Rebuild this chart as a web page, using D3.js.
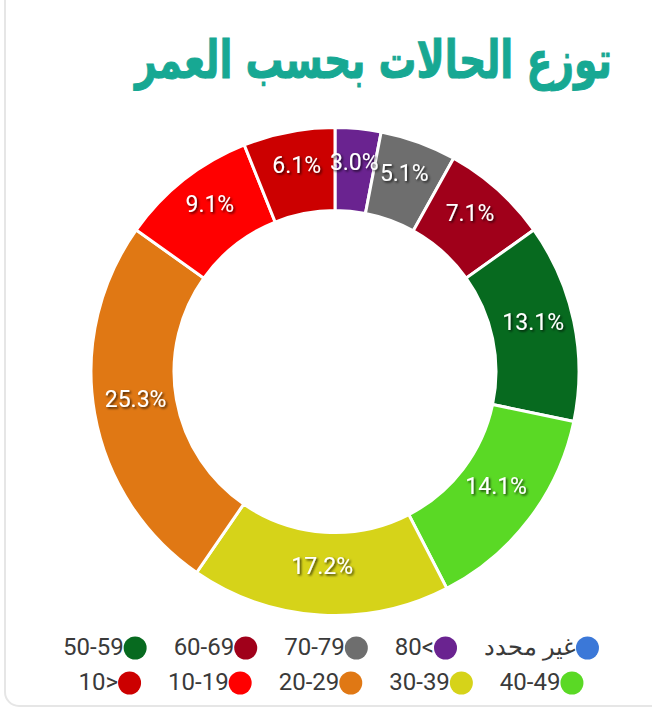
<!DOCTYPE html>
<html>
<head>
<meta charset="utf-8">
<script src="https://cdn.jsdelivr.net/npm/d3@7"></script>
<style>
  body { margin: 0; background: #fff; }
  svg { display: block; }
</style>
</head>
<body>
<svg width="652" height="716"></svg>
<script>
// age groups, in legend order (right to left), and case counts
var ageLabels = ["غير محدد", "80<", "70-79", "60-69", "50-59", "40-49", "30-39", "20-29", "10-19", "10>"];
var caseCounts = [0, 3, 5, 7, 13, 14, 17, 25, 9, 6];
var sliceColors = ["#3b78d8", "#6a2390", "#6e6e6e", "#a0001a", "#076a1f", "#5ad925", "#d6d319", "#e07814", "#ff0000", "#cc0000"];
var title = "توزع الحالات بحسب العمر";

var svg = d3.select("svg");
var total = d3.sum(caseCounts);

// card border
svg.append("rect")
  .attr("x", 5).attr("y", -30)
  .attr("width", 720).attr("height", 736)
  .attr("rx", 14)
  .attr("fill", "#fff")
  .attr("stroke", "#e6e6e6")
  .attr("stroke-width", 2);

// shadow for the slice labels
var f = svg.append("defs").append("filter").attr("id", "shadow")
  .attr("x", "-20%").attr("y", "-30%").attr("width", "140%").attr("height", "160%");
f.append("feDropShadow")
  .attr("dx", 1.5).attr("dy", 1.5).attr("stdDeviation", 1.2)
  .attr("flood-color", "#000").attr("flood-opacity", 0.75);

// title, stretched to the width it has in the card
var titleX = 373.5;
var t = svg.append("text")
  .attr("x", titleX).attr("y", 78)
  .attr("text-anchor", "middle")
  .attr("font-family", "DejaVu Sans")
  .attr("font-weight", "bold")
  .attr("font-size", 52)
  .attr("fill", "#17a893")
  .attr("stroke", "#17a893")
  .attr("stroke-width", 1)
  .text(title);
var tw = t.node().getComputedTextLength();
t.attr("transform", "translate(" + titleX + ",0) scale(" + (477 / tw) + ",1) translate(" + (-titleX) + ",0)");

// doughnut
var cx = 335, cy = 371.5, outerR = 244, innerR = 161;
var g = svg.append("g").attr("transform", "translate(" + cx + "," + cy + ")");

var pie = d3.pie().sort(null).value(function(d) { return d; });
var arcs = pie(caseCounts);
var arc = d3.arc().innerRadius(innerR).outerRadius(outerR);

g.selectAll("path")
  .data(arcs)
  .enter().append("path")
    .attr("d", arc)
    .attr("fill", function(d, i) { return sliceColors[i]; })
    .attr("stroke", "#fff")
    .attr("stroke-width", 3);

g.selectAll("text.pct")
  .data(arcs.filter(function(d) { return d.value > 0; }))
  .enter().append("text")
    .attr("class", "pct")
    .attr("x", function(d) { return arc.centroid(d)[0]; })
    .attr("y", function(d) { return arc.centroid(d)[1]; })
    .attr("text-anchor", "middle")
    .attr("font-family", "Roboto")
    .attr("font-size", 23)
    .attr("fill", "#fff")
    .attr("filter", "url(#shadow)")
    .text(function(d) { return (d.value / total * 100).toFixed(1) + "%"; });

// legend: two centred rows laid out right to left
var rows = [ageLabels.slice(0, 5), ageLabels.slice(5)];
var rowY = [648, 683];
var dotR = 11.5, gap = 27, centerX = 331;
var lg = svg.append("g");

rows.forEach(function(row, r) {
  var items = row.map(function(label) {
    var tx = lg.append("text")
      .attr("font-family", "Roboto")
      .attr("font-size", 24)
      .attr("fill", "#3a3a3a")
      .attr("direction", "ltr")
      .text(label);
    return { label: label, node: tx, w: tx.node().getComputedTextLength() };
  });
  var rowW = d3.sum(items, function(d) { return d.w + 2 * dotR; }) + gap * (items.length - 1);
  var right = centerX + rowW / 2;
  items.forEach(function(d) {
    var idx = ageLabels.indexOf(d.label);
    lg.insert("ellipse", "text")
      .attr("cx", right - dotR).attr("cy", rowY[r])
      .attr("rx", dotR).attr("ry", dotR)
      .attr("fill", sliceColors[idx]);
    d.node
      .attr("x", right - 2 * dotR)
      .attr("y", rowY[r] + 7)
      .attr("text-anchor", "end");
    right -= d.w + 2 * dotR + gap;
  });
});
</script>
</body>
</html>
